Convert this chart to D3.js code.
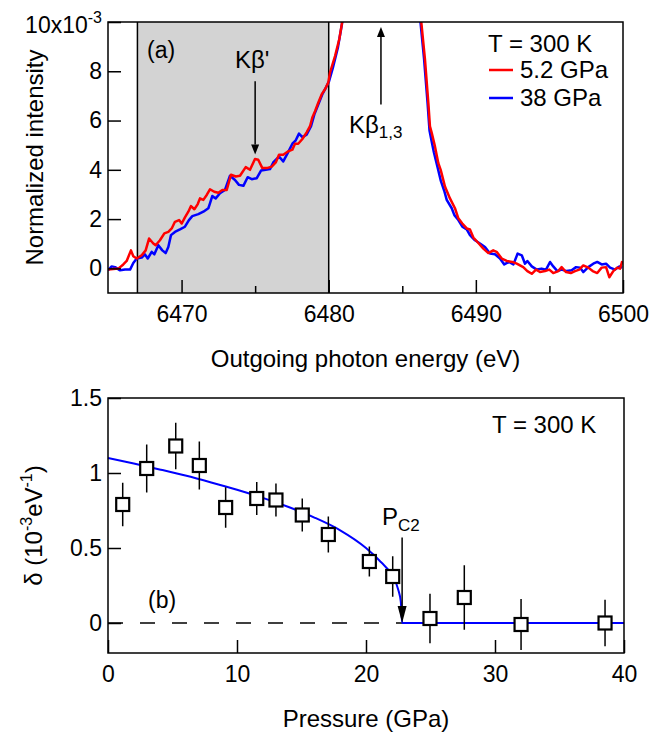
<!DOCTYPE html>
<html>
<head>
<meta charset="utf-8">
<script src="https://cdn.jsdelivr.net/npm/d3@7"></script>
<style>
body { margin: 0; background: #fff; }
svg { display: block; font-family: "Liberation Sans", Arial, Helvetica, sans-serif; }
</style>
</head>
<body>
<svg width="663" height="737"></svg>
<script>
// ---- data: panel (a), spectra [energy eV, intensity x10^-3]
var spec52 = [[6465.02,-0.05],[6465.70,-0.01],[6466.04,0.16],[6466.27,0.30],[6466.56,0.73],[6466.72,0.49],[6466.95,0.40],[6467.29,0.53],[6467.56,0.73],[6467.79,1.21],[6468.08,1.01],[6468.24,0.94],[6468.53,1.14],[6468.83,1.42],[6469.10,1.48],[6469.33,1.62],[6469.55,1.89],[6469.83,1.96],[6470.01,1.82],[6470.23,2.07],[6470.46,2.30],[6470.64,2.53],[6470.87,2.40],[6471.10,2.61],[6471.25,2.84],[6471.48,2.78],[6471.71,2.98],[6471.93,3.21],[6472.22,3.11],[6472.50,3.07],[6472.77,3.18],[6473.07,3.18],[6473.36,3.80],[6473.68,3.73],[6473.97,3.76],[6474.36,4.11],[6474.65,4.00],[6474.99,4.44],[6475.21,4.41],[6475.49,4.07],[6475.79,4.07],[6476.13,4.13],[6476.40,4.30],[6476.62,4.61],[6476.91,4.61],[6477.25,4.75],[6477.53,4.82],[6477.71,5.06],[6477.93,5.06],[6478.21,5.25],[6478.50,5.52],[6478.73,5.77],[6478.88,6.11],[6479.07,6.38],[6479.29,6.72],[6479.52,7.06],[6479.75,7.27],[6479.97,7.54],[6480.09,7.95],[6480.43,8.62],[6480.72,9.31],[6480.95,10.12],[6481.25,12],[6486.1,12],[6486.27,10.12],[6486.54,8.49],[6486.77,6.72],[6486.88,5.77],[6487.00,5.50],[6487.22,4.95],[6487.45,4.27],[6487.61,4.00],[6487.90,3.32],[6488.24,2.84],[6488.58,2.44],[6488.81,2.03],[6489.08,1.82],[6489.38,1.62],[6489.60,1.58],[6489.83,1.25],[6490.17,1.03],[6490.51,0.80],[6490.85,0.62],[6491.18,0.73],[6491.41,0.67],[6491.76,0.40],[6492.10,0.30],[6492.48,0.26],[6492.78,0.19],[6493.00,0.12],[6493.22,0.05],[6493.50,-0.11],[6493.80,-0.22],[6494.09,-0.05],[6494.36,-0.15],[6494.70,-0.11],[6494.99,-0.05],[6495.26,-0.19],[6495.60,-0.11],[6495.83,0.05],[6496.13,-0.15],[6496.45,-0.19],[6496.74,-0.11],[6497.03,-0.05],[6497.30,0.12],[6497.64,0.03],[6497.94,-0.11],[6498.25,-0.19],[6498.55,0.03],[6498.85,0.05],[6499.07,-0.36],[6499.34,-0.11],[6499.61,0.03],[6499.80,-0.01],[6499.95,0.30]];

var spec38 = [[6465.0,-0.08],[6465.25,0.08],[6465.48,0.05],[6465.82,-0.08],[6466.16,-0.05],[6466.50,-0.05],[6466.72,0.22],[6466.95,0.40],[6467.29,0.44],[6467.51,0.57],[6467.70,0.40],[6467.97,0.67],[6468.15,0.57],[6468.42,0.94],[6468.69,0.73],[6468.92,0.62],[6469.10,0.87],[6469.28,1.35],[6469.55,1.48],[6469.89,1.58],[6470.23,1.69],[6470.50,1.96],[6470.73,2.12],[6471.14,2.20],[6471.48,2.30],[6471.82,2.44],[6471.93,2.64],[6472.09,2.94],[6472.32,2.84],[6472.61,3.05],[6472.95,3.18],[6473.29,3.76],[6473.63,3.59],[6473.90,3.39],[6474.20,3.35],[6474.49,3.70],[6474.77,3.62],[6475.11,3.66],[6475.40,3.97],[6475.72,4.00],[6476.01,4.03],[6476.23,4.30],[6476.62,4.54],[6476.91,4.34],[6477.21,4.68],[6477.53,5.06],[6477.76,5.20],[6477.98,5.47],[6478.21,5.33],[6478.50,5.43],[6478.80,5.77],[6479.02,6.24],[6479.29,6.65],[6479.56,7.06],[6479.82,7.35],[6480.02,7.59],[6480.29,8.16],[6480.63,8.98],[6480.90,9.92],[6481.2,12],[6486.05,12],[6486.22,10.1],[6486.48,8.5],[6486.72,6.7],[6486.85,5.6],[6486.98,5.2],[6487.15,4.7],[6487.40,4.1],[6487.62,3.55],[6487.85,3.15],[6488.02,2.78],[6488.36,2.44],[6488.54,2.16],[6488.81,1.96],[6489.08,1.69],[6489.38,1.58],[6489.60,1.35],[6489.94,1.14],[6490.28,1.01],[6490.62,0.87],[6490.96,0.60],[6491.30,0.57],[6491.64,0.40],[6491.93,0.16],[6492.25,0.26],[6492.55,0.16],[6492.84,0.60],[6493.12,0.53],[6493.34,0.19],[6493.50,0.30],[6493.80,0.08],[6494.14,-0.05],[6494.47,-0.01],[6494.77,-0.05],[6495.04,0.26],[6495.26,0.08],[6495.54,-0.11],[6495.83,-0.05],[6496.17,-0.11],[6496.51,-0.08],[6496.81,0.05],[6497.08,0.03],[6497.30,-0.15],[6497.64,0.05],[6497.98,0.19],[6498.25,0.26],[6498.55,0.16],[6498.85,0.19],[6499.12,0.03],[6499.46,-0.05],[6499.75,0.08],[6499.95,0.03]];

var shadeRange = [6467, 6480];
var energyTicks = [6470, 6480, 6490, 6500];
var energyMinor = [6475, 6485, 6495];
var intensityTicks = [0, 2, 4, 6, 8, 10];
var legendNames = ["5.2 GPa", "38 GPa"];
var legendColors = ["#ff0000", "#0000ff"];

// ---- data: panel (b)
var pressure = [1.14, 3.0, 5.25, 7.08, 9.12, 11.53, 13.02, 15.06, 17.08, 20.26, 22.07, 24.96, 27.62, 32.02, 38.53];
var delta = [0.79, 1.03, 1.18, 1.05, 0.77, 0.83, 0.82, 0.72, 0.59, 0.41, 0.31, 0.03, 0.17, -0.01, 0.0];
var deltaErr = [0.145, 0.16, 0.155, 0.16, 0.135, 0.11, 0.11, 0.11, 0.12, 0.10, 0.135, 0.165, 0.215, 0.17, 0.155];
var fitP = [0, 2, 4, 6, 8, 10, 12, 14, 16, 18, 20, 21, 22, 22.5, 22.7, 22.8, 40];
var fitDelta = [1.10, 1.063, 1.024, 0.983, 0.937, 0.888, 0.834, 0.773, 0.703, 0.618, 0.50, 0.42, 0.318, 0.222, 0.14, 0, 0];
var pc2 = 22.8;
var pressureTicks = [0, 10, 20, 30, 40];
var deltaTicks = [0, 0.5, 1, 1.5];

var svg = d3.select("svg");
var fs = 23;

// ---------------- panel (a)
var xA = d3.scaleLinear().domain([6465, 6500]).range([108, 623]);
var yA = d3.scaleLinear().domain([-1, 10]).range([293, 22]);

svg.append("defs").append("clipPath").attr("id", "clipA")
	.append("rect")
	.attr("x", xA(6465)).attr("y", yA(10))
	.attr("width", xA(6500) - xA(6465)).attr("height", yA(-1) - yA(10));

// shaded window
svg.append("rect")
	.attr("x", xA(shadeRange[0])).attr("y", yA(10))
	.attr("width", xA(shadeRange[1]) - xA(shadeRange[0]))
	.attr("height", yA(-1) - yA(10))
	.attr("fill", "#d3d3d3");
shadeRange.forEach(function(e) {
	svg.append("line")
		.attr("x1", xA(e)).attr("x2", xA(e))
		.attr("y1", yA(10)).attr("y2", yA(-1))
		.attr("stroke", "black").attr("stroke-width", 1.5);
});

var lineA = d3.line()
	.x(function(d) { return xA(d[0]); })
	.y(function(d) { return yA(d[1]); });

var curvesA = svg.append("g").attr("clip-path", "url(#clipA)");
[spec38, spec52].forEach(function(s, i) {
	curvesA.append("path")
		.datum(s)
		.attr("fill", "none")
		.attr("stroke", i === 0 ? legendColors[1] : legendColors[0])
		.attr("stroke-width", 2.5)
		.attr("stroke-linejoin", "round")
		.attr("d", lineA);
});

// axes (inward ticks)
var gxA = svg.append("g").attr("transform", "translate(0," + yA(-1) + ")")
	.call(d3.axisBottom(xA).tickValues(energyTicks).tickSize(-13).tickPadding(13).tickFormat(d3.format("d")));
var gxAm = svg.append("g").attr("transform", "translate(0," + yA(-1) + ")")
	.call(d3.axisBottom(xA).tickValues(energyMinor).tickSize(-7).tickFormat(""));
var gyA = svg.append("g").attr("transform", "translate(" + xA(6465) + ",0)")
	.call(d3.axisLeft(yA).tickValues(intensityTicks).tickSize(-13).tickPadding(6)
		.tickFormat(function(d) { return d === 10 ? "" : d; }));

[gxA, gxAm, gyA].forEach(function(g) {
	g.select(".domain").remove();
	g.attr("font-size", fs).attr("font-family", null);
	g.selectAll("line").attr("stroke-width", 1.5);
	g.selectAll("text").attr("fill", "black");
});

svg.append("rect")
	.attr("x", xA(6465)).attr("y", yA(10))
	.attr("width", xA(6500) - xA(6465)).attr("height", yA(-1) - yA(10))
	.attr("fill", "none").attr("stroke", "black").attr("stroke-width", 1.5);

// 10x10^-3 multiplier
var mult = svg.append("text").attr("x", 102).attr("y", 33)
	.attr("text-anchor", "end").attr("font-size", fs).text("10x10");
mult.append("tspan").attr("dy", -10).attr("font-size", 16).text("-3");

svg.append("text")
	.attr("transform", "translate(43," + (yA(-1) + yA(10)) / 2 + ") rotate(-90)")
	.attr("text-anchor", "middle").attr("font-size", 24)
	.text("Normalized intensity");

svg.append("text")
	.attr("x", (xA(6465) + xA(6500)) / 2).attr("y", 367)
	.attr("text-anchor", "middle").attr("font-size", 24)
	.text("Outgoing photon energy (eV)");

// annotations
svg.append("text").attr("x", 147).attr("y", 58).attr("font-size", fs).text("(a)");
svg.append("text").attr("x", 235).attr("y", 68).attr("font-size", 24).text("K\u03b2'");

function arrow(x, y1, y2, len, half) {
	var dir = y2 > y1 ? 1 : -1;
	svg.append("line")
		.attr("x1", x).attr("x2", x).attr("y1", y1).attr("y2", y2 - dir * len)
		.attr("stroke", "black").attr("stroke-width", 1.5);
	svg.append("path")
		.attr("d", "M" + x + "," + y2 + "L" + (x - half) + "," + (y2 - dir * len) + "L" + (x + half) + "," + (y2 - dir * len) + "Z")
		.attr("fill", "black");
}
arrow(xA(6475), yA(7.6), yA(4.62), 10, 4);
arrow(xA(6483.55), yA(6.65), yA(9.8), 10, 4);

var kb = svg.append("text").attr("x", 349).attr("y", 133).attr("font-size", 24).text("K\u03b2");
kb.append("tspan").attr("dy", 5).attr("font-size", 17).text("1,3");

// legend
svg.append("text").attr("x", 488).attr("y", 52).attr("font-size", 24).text("T = 300 K");
legendNames.forEach(function(n, i) {
	var yy = 70 + i * 28;
	svg.append("line").attr("x1", 489).attr("x2", 513).attr("y1", yy).attr("y2", yy)
		.attr("stroke", legendColors[i]).attr("stroke-width", 2.5);
	svg.append("text").attr("x", 520).attr("y", yy + 8).attr("font-size", 24).text(n);
});

// ---------------- panel (b)
var xB = d3.scaleLinear().domain([0, 40]).range([108, 624]);
var yB = d3.scaleLinear().domain([-0.2, 1.5]).range([653, 398]);

// dashed zero reference up to Pc2
svg.append("line")
	.attr("x1", xB(0)).attr("x2", xB(pc2))
	.attr("y1", yB(0)).attr("y2", yB(0))
	.attr("stroke", "black").attr("stroke-width", 1.5)
	.attr("stroke-dasharray", "15,17");

// fit curve
svg.append("path")
	.datum(fitP.map(function(p, i) { return [p, fitDelta[i]]; }))
	.attr("fill", "none").attr("stroke", "#0000ff").attr("stroke-width", 2)
	.attr("d", d3.line()
		.x(function(d) { return xB(d[0]); })
		.y(function(d) { return yB(d[1]); })
		.curve(d3.curveMonotoneX));

var pts = pressure.map(function(p, i) { return {p: p, d: delta[i], e: deltaErr[i]}; });

svg.selectAll("line.err").data(pts).enter().append("line")
	.attr("class", "err")
	.attr("x1", function(d) { return xB(d.p); })
	.attr("x2", function(d) { return xB(d.p); })
	.attr("y1", function(d) { return yB(d.d - d.e); })
	.attr("y2", function(d) { return yB(d.d + d.e); })
	.attr("stroke", "black").attr("stroke-width", 1.5);

var sq = 13;
svg.selectAll("rect.pt").data(pts).enter().append("rect")
	.attr("class", "pt")
	.attr("x", function(d) { return xB(d.p) - sq / 2; })
	.attr("y", function(d) { return yB(d.d) - sq / 2; })
	.attr("width", sq).attr("height", sq)
	.attr("fill", "white").attr("stroke", "black").attr("stroke-width", 2.2);

var gxB = svg.append("g").attr("transform", "translate(0," + yB(-0.2) + ")")
	.call(d3.axisBottom(xB).tickValues(pressureTicks).tickSize(-13).tickPadding(13));
var gyB = svg.append("g").attr("transform", "translate(" + xB(0) + ",0)")
	.call(d3.axisLeft(yB).tickValues(deltaTicks).tickSize(-13).tickPadding(6)
		.tickFormat(function(d) { return d; }));

[gxB, gyB].forEach(function(g) {
	g.select(".domain").remove();
	g.attr("font-size", fs).attr("font-family", null);
	g.selectAll("line").attr("stroke-width", 1.5);
	g.selectAll("text").attr("fill", "black");
});

svg.append("rect")
	.attr("x", xB(0)).attr("y", yB(1.5))
	.attr("width", xB(40) - xB(0)).attr("height", yB(-0.2) - yB(1.5))
	.attr("fill", "none").attr("stroke", "black").attr("stroke-width", 1.5);

// Pc2 arrow and labels
arrow(xB(pc2), yB(0.57), yB(0), 17, 4.5);
var pc = svg.append("text").attr("x", 382).attr("y", 525).attr("font-size", 24).text("P");
pc.append("tspan").attr("dy", 6).attr("font-size", 17).text("C2");

svg.append("text").attr("x", 148).attr("y", 608).attr("font-size", fs).text("(b)");
svg.append("text").attr("x", 492).attr("y", 433).attr("font-size", 24).text("T = 300 K");

var dt = svg.append("text")
	.attr("transform", "translate(42," + (yB(-0.2) + yB(1.5)) / 2 + ") rotate(-90)")
	.attr("text-anchor", "middle").attr("font-size", 24);
dt.append("tspan").text("\u03b4  (10");
dt.append("tspan").attr("dy", -10).attr("font-size", 16).text("-3");
dt.append("tspan").attr("dy", 10).text("eV");
dt.append("tspan").attr("dy", -10).attr("font-size", 16).text("-1");
dt.append("tspan").attr("dy", 10).text(")");

svg.append("text")
	.attr("x", (xB(0) + xB(40)) / 2).attr("y", 727)
	.attr("text-anchor", "middle").attr("font-size", 24)
	.text("Pressure (GPa)");
</script>
</body>
</html>
